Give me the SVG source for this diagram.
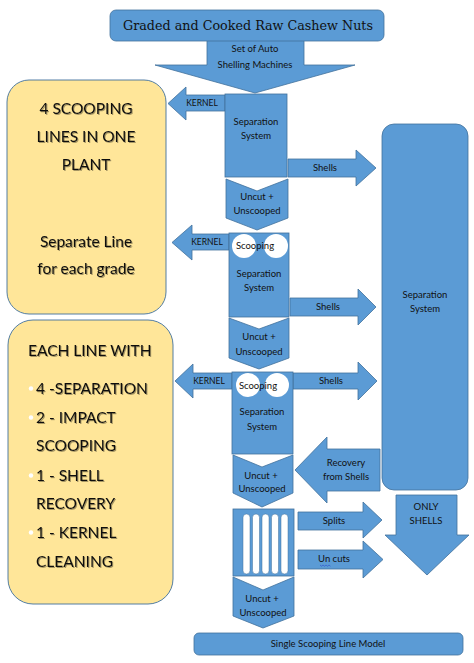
<svg xmlns="http://www.w3.org/2000/svg" width="474" height="663" viewBox="0 0 474 663">
<defs>
<style>
.b{fill:#5B9BD5;stroke:#41719C;stroke-width:0.8}
.y{fill:#FFE699;stroke:#41719C;stroke-width:0.9}
.w{fill:#FFFFFF;stroke:#41719C;stroke-width:0.5}
.t{font-family:Lato,"Liberation Sans",sans-serif;font-size:9.5px;fill:#111;text-anchor:middle}
.s{font-family:Lato,"Liberation Sans",sans-serif;font-size:8.5px;fill:#111;text-anchor:middle}
.L{font-family:Lato,"Liberation Sans",sans-serif;font-size:15.5px;fill:#111}
.c{text-anchor:middle}
.ser{font-family:"DejaVu Serif","Liberation Serif",serif;font-size:12.5px;fill:#111;text-anchor:middle}
</style>
<filter id="sh" x="-10%" y="-30%" width="130%" height="160%">
<feDropShadow dx="1" dy="1" stdDeviation="0.6" flood-color="#000" flood-opacity="0.35"/>
</filter>
</defs>
<rect width="474" height="663" fill="#FFFFFF"/>

<g id="shelling-machines">
<polygon class="b" points="207,40 304,40 304,65 355,65 255,93 155,65 207,65"/>
<text class="t" x="255" y="52">Set of Auto</text>
<text class="t" x="255" y="68">Shelling Machines</text>
</g>

<g id="title">
<rect class="b" x="110" y="10" width="274" height="31" rx="6"/>
<text class="ser" x="248" y="29.5" textLength="250" lengthAdjust="spacingAndGlyphs">Graded and Cooked Raw Cashew Nuts</text>
</g>

<g id="info-lines">
<rect class="y" x="7" y="80" width="159" height="234" rx="22"/>
<g class="L c" filter="url(#sh)">
<text x="86" y="114">4 SCOOPING</text>
<text x="86" y="142">LINES IN ONE</text>
<text x="86" y="170">PLANT</text>
<text x="86" y="247">Separate Line</text>
<text x="86" y="274">for each grade</text>
</g>
</g>

<g id="info-each-line">
<rect class="y" x="8" y="320" width="165" height="284" rx="25"/>
<g class="L" filter="url(#sh)">
<text x="28" y="356">EACH LINE WITH</text>
<text x="36" y="394">4 -SEPARATION</text>
<text x="36" y="423">2 - IMPACT</text>
<text x="36" y="451">SCOOPING</text>
<text x="36" y="481">1 - SHELL</text>
<text x="36" y="509">RECOVERY</text>
<text x="36" y="538">1 - KERNEL</text>
<text x="36" y="567">CLEANING</text>
</g>
<g fill="#FFFFFF">
<circle cx="31" cy="388.5" r="2.2"/>
<circle cx="31" cy="417.5" r="2.2"/>
<circle cx="31" cy="475.5" r="2.2"/>
<circle cx="31" cy="532.5" r="2.2"/>
</g>
</g>

<g id="connectors">
<g id="kernel-1"><polygon class="b" points="168,103.5 186,87 186,95 225,95 225,111 186,111 186,120"/><text class="s" x="202" y="106">KERNEL</text></g>
<g id="kernel-2"><polygon class="b" points="172,242.5 192,225 192,234 229,234 229,250 192,250 192,260"/><text class="s" x="207" y="245">KERNEL</text></g>
<g id="kernel-3"><polygon class="b" points="175,381 193,364 193,373 232,373 232,389 193,389 193,398"/><text class="s" x="209" y="384">KERNEL</text></g>
<g id="shells-1"><polygon class="b" points="288,159 356,159 356,150 376,168 356,186 356,177 288,177"/><text class="t" x="325" y="171">Shells</text></g>
<g id="shells-2"><polygon class="b" points="290,298 358,298 358,289 376,307 358,325 358,316 290,316"/><text class="t" x="328" y="310">Shells</text></g>
<g id="shells-3"><polygon class="b" points="293,373 358,373 358,362 377,381 358,400 358,389 293,389"/><text class="t" x="331" y="384">Shells</text></g>
<g id="recovery"><polygon class="b" points="295,470 327,437 327,449 380,449 380,491 327,491 327,503"/><text class="t" x="346" y="466">Recovery</text><text class="t" x="346" y="480">from Shells</text></g>
<g id="splits"><polygon class="b" points="298,512 363,512 363,502 382,520 363,538 363,530 298,530"/><text class="t" x="334" y="524">Splits</text></g>
<g id="uncuts"><polygon class="b" points="298,550 363,550 363,541 383,559.5 363,578 363,569 298,569"/><text class="t" x="334" y="562">Un cuts</text><path d="M320,565 l1.5,1.2 l1.5,-1.2 l1.5,1.2 l1.5,-1.2 l1.5,1.2 l1.5,-1.2 l1.5,1.2" fill="none" stroke="#3355CC" stroke-width="0.7"/></g>
</g>

<g id="separation-1">
<rect class="b" x="225" y="94" width="62" height="83"/>
<text class="t" x="256" y="125">Separation</text>
<text class="t" x="256" y="139">System</text>
</g>
<g id="uncut-1">
<polygon class="b" points="226,179 257,191 288,179 288,218 257,230 226,218"/>
<text class="t" x="257" y="200">Uncut +</text>
<text class="t" x="257" y="214">Unscooped</text>
</g>

<g id="separation-2">
<rect class="b" x="229" y="233" width="60" height="84"/>
<circle cx="244" cy="246" r="12" fill="#FFFFFF"/>
<circle cx="276" cy="246" r="12" fill="#FFFFFF"/>
<text class="t" x="255" y="249">Scooping</text>
<text class="t" x="259" y="277">Separation</text>
<text class="t" x="259" y="291">System</text>
</g>
<g id="uncut-2">
<polygon class="b" points="229,318 259,329 289,318 289,358 259,369 229,358"/>
<text class="t" x="259" y="340">Uncut +</text>
<text class="t" x="259" y="355">Unscooped</text>
</g>

<g id="separation-3">
<rect class="b" x="232" y="372" width="61" height="82"/>
<circle cx="248" cy="385" r="12" fill="#FFFFFF"/>
<circle cx="277" cy="385" r="12" fill="#FFFFFF"/>
<text class="t" x="258" y="389">Scooping</text>
<text class="t" x="262" y="415">Separation</text>
<text class="t" x="262" y="430">System</text>
</g>
<g id="uncut-3">
<polygon class="b" points="233,455 262,467 293,455 293,493 262,507 233,493"/>
<text class="t" x="261" y="479">Uncut +</text>
<text class="t" x="262" y="492">Unscooped</text>
</g>

<g id="kernel-cleaning">
<rect class="b" x="233" y="509" width="61" height="67"/>
<rect class="w" x="243" y="514" width="7" height="60" rx="3.5"/>
<rect class="w" x="252.5" y="514" width="7" height="60" rx="3.5"/>
<rect class="w" x="262" y="514" width="7" height="60" rx="3.5"/>
<rect class="w" x="271.5" y="514" width="7" height="60" rx="3.5"/>
<rect class="w" x="281" y="514" width="7" height="60" rx="3.5"/>
</g>
<g id="uncut-4">
<polygon class="b" points="233,577 263,590 294,577 294,616 263,628 233,616"/>
<text class="t" x="262" y="602">Uncut +</text>
<text class="t" x="263" y="616">Unscooped</text>
</g>

<g id="separation-main">
<rect class="b" x="382" y="124" width="86" height="366" rx="12"/>
<text class="t" x="425" y="298">Separation</text>
<text class="t" x="425" y="312">System</text>
</g>
<g id="only-shells">
<polygon class="b" points="396,495 457,495 457,535 469,535 427,575 385,535 396,535"/>
<text class="t" x="426" y="510">ONLY</text>
<text class="t" x="426" y="524">SHELLS</text>
</g>

<g id="footer">
<rect class="b" x="194" y="633" width="269" height="22" rx="5"/>
<text class="t" x="328" y="647">Single Scooping Line Model</text>
</g>
</svg>
